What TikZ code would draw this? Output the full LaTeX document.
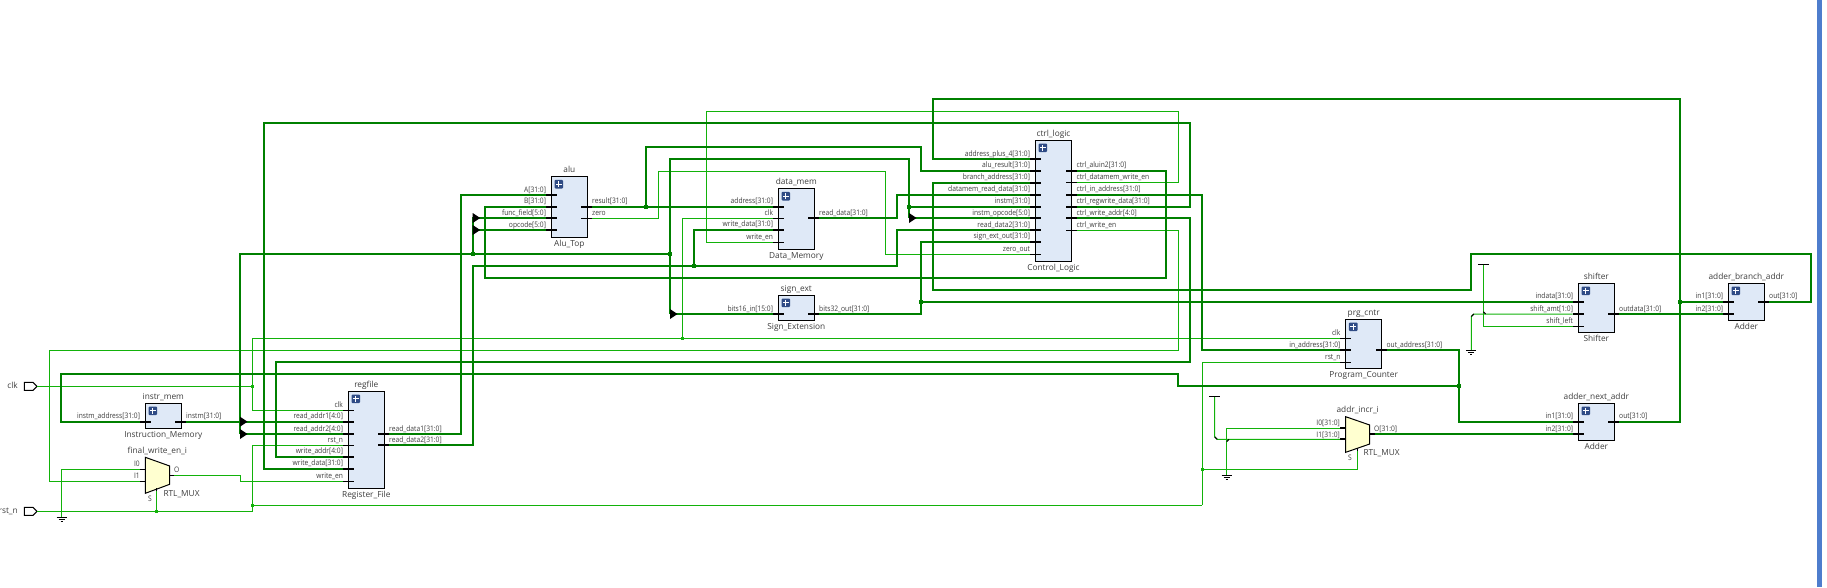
\documentclass[tikz,border=0pt]{standalone}
\usepackage{fontspec}
\setmainfont{Open Sans}
\newfontfamily\pinfont[FakeStretch=0.88]{Open Sans}
\usetikzlibrary{positioning}
\definecolor{busgreen}{RGB}{0,128,0}
\definecolor{netgreen}{RGB}{18,178,10}
\definecolor{blkfill}{RGB}{223,233,247}
\definecolor{muxfill}{RGB}{255,255,208}
\definecolor{icongray}{RGB}{47,75,133}
\definecolor{txtgray}{RGB}{60,60,60}
\definecolor{barblue}{RGB}{78,125,205}
\tikzstyle{blk}=[draw=black,line width=1pt,fill=blkfill,anchor=north west,inner sep=0pt,outer sep=0pt,minimum width=36pt]
\tikzstyle{muxblk}=[draw=black,line width=1pt,fill=muxfill]
\tikzstyle{portblk}=[draw=black,line width=1pt,fill=white]
\tikzstyle{plusic}=[fill=icongray,rounded corners=1pt,minimum size=8.6pt,inner sep=0pt,path picture={\draw[white,line width=1.2pt] ([xshift=-2.8pt]path picture bounding box.center) -- ([xshift=2.8pt]path picture bounding box.center); \draw[white,line width=1.2pt] ([yshift=-2.8pt]path picture bounding box.center) -- ([yshift=2.8pt]path picture bounding box.center);}]
\tikzstyle{bus}=[draw=busgreen,line width=1.8pt,line join=miter]
\tikzstyle{net}=[draw=netgreen,line width=1pt]
\tikzstyle{busstub}=[draw=black,line width=1.8pt]
\tikzstyle{netstub}=[draw=black,line width=1pt]
\tikzstyle{lblL}=[anchor=base east,inner sep=0pt,text=txtgray,font=\pinfont\fontsize{7.6}{9}\selectfont]
\tikzstyle{lblR}=[anchor=base west,inner sep=0pt,text=txtgray,font=\pinfont\fontsize{7.6}{9}\selectfont]
\tikzstyle{lblC}=[inner sep=0pt,text height=6.5pt,text depth=2pt,text=txtgray,font=\fontsize{8.3}{10}\selectfont]
\tikzstyle{junc}=[fill=busgreen,inner sep=0pt,minimum size=4pt]
\tikzstyle{juncn}=[fill=netgreen,inner sep=0pt,minimum size=3pt]
\newcommand{\pinL}[3]{\foreach \p/\yy/\tx in {#3}{
	\path (#2.west |- 0,\yy) ++(-5.6,0) coordinate (\p);
	\draw[#1] (\p) -- ++(11.3,0);
	\path (\p) ++(0.5,-3) node [lblL] (\p lbl) {\tx};}}
\newcommand{\pinR}[3]{\foreach \p/\yy/\tx in {#3}{
	\path (#2.east |- 0,\yy) ++(5,0) coordinate (\p);
	\draw[#1] (\p) -- ++(-11,0);
	\path (\p) ++(-0.3,-3) node [lblR] (\p lbl) {\tx};}}
\tikzset{gnd/.pic={\draw[black,line width=1pt] (-5,0) -- (5,0); \draw[black,line width=1pt] (-3,2) -- (3,2); \draw[black,line width=1pt] (-1,4) -- (1,4);},
	pwr/.pic={\draw[black,line width=1pt] (-5.3,0) -- (5.3,0);}}

\begin{document}
\begin{tikzpicture}[x=1pt,y=-1pt]
	\useasboundingbox (0,0) rectangle (1827,587);
	\fill[barblue] (1817,0) rectangle (1822,587);

	\node [blk, minimum height=25] (instr_mem) at (145.3,403.3) {};
	\node [blk, minimum height=97] (regfile) at (348.3,391.3) {};
	\node [blk, minimum height=60.6] (alu) at (551.3,176.7) {};
	\node [blk, minimum height=60.6] (data_mem) at (778.3,188.7) {};
	\node [blk, minimum height=25.4] (sign_ext) at (778.3,295.3) {};
	\node [blk, minimum height=121, minimum width=36.4] (ctrl_logic) at (1035.3,140.3) {};
	\node [blk, minimum height=49] (prg_cntr) at (1345.7,319.3) {};
	\node [blk, minimum height=49] (shifter) at (1578.3,283.3) {};
	\node [blk, minimum height=37] (adder_branch_addr) at (1728.3,283.3) {};
	\node [blk, minimum height=37] (adder_next_addr) at (1578.3,403.3) {};

	\foreach \b in {instr_mem,regfile,alu,data_mem,sign_ext,ctrl_logic,prg_cntr,shifter,adder_branch_addr,adder_next_addr}
		\node [plusic, below right=3pt and 3pt of \b.north west] (\b plus) {};

	\node [lblC, above=2pt of instr_mem.north] (instr_mem top) {instr\_mem};
	\node [lblC, below=2pt of instr_mem.south] (instr_mem bot) {Instruction\_Memory};
	\node [lblC, above=2pt of regfile.north] (regfile top) {regfile};
	\node [lblC, below=2pt of regfile.south] (regfile bot) {Register\_File};
	\node [lblC, above=2pt of alu.north] (alu top) {alu};
	\node [lblC, below=2pt of alu.south] (alu bot) {Alu\_Top};
	\node [lblC, above=2pt of data_mem.north] (data_mem top) {data\_mem};
	\node [lblC, below=2pt of data_mem.south] (data_mem bot) {Data\_Memory};
	\node [lblC, above=2pt of sign_ext.north] (sign_ext top) {sign\_ext};
	\node [lblC, below=2pt of sign_ext.south] (sign_ext bot) {Sign\_Extension};
	\node [lblC, above=2pt of ctrl_logic.north] (ctrl_logic top) {ctrl\_logic};
	\node [lblC, below=2pt of ctrl_logic.south] (ctrl_logic bot) {Control\_Logic};
	\node [lblC, above=2pt of prg_cntr.north] (prg_cntr top) {prg\_cntr};
	\node [lblC, below=2pt of prg_cntr.south] (prg_cntr bot) {Program\_Counter};
	\node [lblC, above=2pt of shifter.north] (shifter top) {shifter};
	\node [lblC, below=2pt of shifter.south] (shifter bot) {Shifter};
	\node [lblC, above=2pt of adder_branch_addr.north] (adder_branch_addr top) {adder\_branch\_addr};
	\node [lblC, below=2pt of adder_branch_addr.south] (adder_branch_addr bot) {Adder};
	\node [lblC, above=2pt of adder_next_addr.north] (adder_next_addr top) {adder\_next\_addr};
	\node [lblC, below=2pt of adder_next_addr.south] (adder_next_addr bot) {Adder};

	\pinL{busstub}{instr_mem}{im_addr/421.7/instm\_address[31:0]}
	\pinR{busstub}{instr_mem}{im_out/421.7/instm[31:0]}
	\pinL{netstub}{regfile}{rf_clk/410.3/clk,rf_rst/445.3/rst\_n,rf_we/481.3/write\_en}
	\pinL{busstub}{regfile}{rf_ra1/421.7/read\_addr1[4:0],rf_ra2/434/read\_addr2[4:0],rf_wa/456.7/write\_addr[4:0],rf_wd/468.7/write\_data[31:0]}
	\pinR{busstub}{regfile}{rf_rd1/434/read\_data1[31:0],rf_rd2/445/read\_data2[31:0]}
	\pinL{busstub}{alu}{alu_a/195/A[31:0],alu_b/206.7/B[31:0],alu_func/218/func\_field[5:0],alu_op/230/opcode[5:0]}
	\pinR{busstub}{alu}{alu_res/206.7/result[31:0]}
	\pinR{netstub}{alu}{alu_zero/218/zero}
	\pinL{busstub}{data_mem}{dm_addr/206.7/address[31:0],dm_wd/229.7/write\_data[31:0]}
	\pinL{netstub}{data_mem}{dm_clk/218/clk,dm_we/242.3/write\_en}
	\pinR{busstub}{data_mem}{dm_rd/218/read\_data[31:0]}
	\pinL{busstub}{sign_ext}{se_in/314/bits16\_in[15:0]}
	\pinR{busstub}{sign_ext}{se_out/314/bits32\_out[31:0]}
	\pinL{busstub}{ctrl_logic}{cl_plus4/159/address\_plus\_4[31:0],cl_alu/170.7/alu\_result[31:0],cl_branch/182.7/branch\_address[31:0],cl_dmrd/194.7/datamem\_read\_data[31:0],cl_instm/206.7/instm[31:0],cl_op/218/instm\_opcode[5:0],cl_rd2/230/read\_data2[31:0],cl_sign/241.7/sign\_ext\_out[31:0]}
	\pinL{netstub}{ctrl_logic}{cl_zero/254.3/zero\_out}
	\pinR{busstub}{ctrl_logic}{cl_aluin2/170.7/ctrl\_aluin2[31:0],cl_in/194.7/ctrl\_in\_address[31:0],cl_rw/206.7/ctrl\_regwrite\_data[31:0],cl_wa/218/ctrl\_write\_addr[4:0]}
	\pinR{netstub}{ctrl_logic}{cl_dmwe/182.7/ctrl\_datamem\_write\_en,cl_we/230.3/ctrl\_write\_en}
	\pinL{netstub}{prg_cntr}{pc_clk/338.3/clk,pc_rst/362.3/rst\_n}
	\pinL{busstub}{prg_cntr}{pc_in/350/in\_address[31:0]}
	\pinR{busstub}{prg_cntr}{pc_out/350/out\_address[31:0]}
	\pinL{busstub}{shifter}{sh_in/301.7/indata[31:0],sh_amt/314/shift\_amt[1:0]}
	\pinL{netstub}{shifter}{sh_left/326.3/shift\_left}
	\pinR{busstub}{shifter}{sh_out/314/outdata[31:0]}
	\pinL{busstub}{adder_branch_addr}{ab_in1/301.7/in1[31:0],ab_in2/314/in2[31:0]}
	\pinR{busstub}{adder_branch_addr}{ab_out/301.7/out[31:0]}
	\pinL{busstub}{adder_next_addr}{an_in1/421.7/in1[31:0],an_in2/434/in2[31:0]}
	\pinR{busstub}{adder_next_addr}{an_out/421.7/out[31:0]}

	\draw[muxblk] (145.3,457.3) -- (169.7,466) -- (169.7,484.3) -- (145.3,493.3) -- cycle;
	\coordinate (m1_i0) at (140,469.3);
	\coordinate (m1_i1) at (140,481.3);
	\coordinate (m1_o) at (174,475.3);
	\coordinate (m1_s) at (156.3,491);
	\draw[netstub] (m1_i0) -- ++(5.3,0);
	\draw[netstub] (m1_i1) -- ++(5.3,0);
	\draw[netstub] (m1_o) -- ++(-4.3,0);
	\draw[netstub] (m1_s) -- ++(0,-3.5);
	\node [lblC] (m1 top) at (157.3,451.3) {final\_write\_en\_i};
	\node [lblC, anchor=west] (m1 type) at (163.3,494) {RTL\_MUX};
	\node [lblL] (m1 i0) at (140,466) {I0};
	\node [lblL] (m1 i1) at (140,478) {I1};
	\node [lblR] (m1 o) at (174,472) {O};
	\node [lblL, anchor=center] (m1 s) at (150,498.7) {S};

	\draw[muxblk] (1345.7,416.7) -- (1369.7,425) -- (1369.7,444) -- (1345.7,452.3) -- cycle;
	\coordinate (m2_i0) at (1340,428);
	\coordinate (m2_i1) at (1340,439.3);
	\coordinate (m2_o) at (1374.5,434);
	\coordinate (m2_s) at (1357.7,451);
	\draw[busstub] (m2_i0) -- ++(5.7,0);
	\draw[busstub] (m2_i1) -- ++(5.7,0);
	\draw[busstub] (m2_o) -- ++(-4.8,0);
	\draw[netstub] (m2_s) -- ++(0,-3.5);
	\node [lblC] (m2 top) at (1357.7,410.3) {addr\_incr\_i};
	\node [lblC, anchor=west] (m2 type) at (1363.3,453) {RTL\_MUX};
	\node [lblL] (m2 i0) at (1340,425.5) {I0[31:0]};
	\node [lblL] (m2 i1) at (1340,437) {I1[31:0]};
	\node [lblR] (m2 o) at (1374,431.5) {O[31:0]};
	\node [lblL, anchor=center] (m2 s) at (1350,457.3) {S};

	\draw[portblk] (24.3,382.3) -- (33,382.3) -- (37,386.3) -- (33,390.3) -- (24.3,390.3) -- cycle;
	\draw[portblk] (24.3,507.3) -- (33,507.3) -- (37,511.3) -- (33,515.3) -- (24.3,515.3) -- cycle;
	\coordinate (clk_p) at (37,386.3);
	\coordinate (rst_p) at (37,511.3);
	\node [lblC, anchor=east] (clk lbl) at (18,385.8) {clk};
	\node [lblC, anchor=east] (rst lbl) at (18,510.8) {rst\_n};

	\coordinate (j_clk) at (252.3,386.3);
	\coordinate (j_clkup) at (252.3,338.3);
	\coordinate (j_dmclk) at (682.3,338.3);
	\coordinate (j_rstup) at (252.3,505.3);
	\coordinate (j_rstpc) at (1202.3,505.3);
	\coordinate (j_rsts) at (156.3,511.3);
	\coordinate (j_rstm2) at (1202.3,469.3);
	\coordinate (g1) at (61.7,517.7);
	\coordinate (g2) at (1226.7,475);
	\coordinate (g3) at (1471.3,350);
	\coordinate (p2) at (1214.7,396.7);
	\coordinate (p3) at (1483.3,264);

	\draw[net] (clk_p) -- (j_clk);
	\draw[net] (j_clkup) |- (rf_clk);
	\draw[net] (j_clkup) -- (pc_clk);
	\draw[net] (j_dmclk) |- (dm_clk);
	\draw[net] (rst_p) -| (252.3,445.3) -- (rf_rst);
	\draw[net] (j_rstup) -- (j_rstpc);
	\draw[net] (pc_rst) -| (j_rstpc);
	\draw[net] (j_rstm2) -| (m2_s);
	\draw[net] (j_rsts) -- (m1_s);
	\draw[net] (alu_zero) -| (658,171.3) -- (885.3,171.3) |- (cl_zero);
	\draw[net] (cl_dmwe) -| (1178.3,111.3) -- (706.7,111.3) |- (dm_we);
	\draw[net] (cl_we) -| (1178.3,350.5) -- (49.5,350.5) |- (m1_i1);
	\draw[net] (m1_o) -| (240.3,481.3) -- (rf_we);
	\draw[net] (m1_i0) -| (g1);
	\draw[net] (m2_i0) -| (g2);
	\draw[net] (m2_i1) -- (1217.2,439.3) -- (1214.7,436.8) -- (p2);
	\draw[net] (sh_left) -| (p3);
	\draw[net] (sh_amt) -- (1473.8,314) -- (1471.3,316.5) -- (g3);
	\draw[netstub] (1217.2,439.3) -- (1214.7,436.8);
	\draw[netstub] (1473.8,314) -- (1471.3,316.5);
	\draw[netstub] (1229,439.3) -- (1226.7,441.6);
	\draw[netstub] (1483.3,311.7) -- (1485.6,314);

	\pic at (g1) {gnd};
	\pic at (g2) {gnd};
	\pic at (g3) {gnd};
	\pic at (p2) {pwr};
	\pic at (p3) {pwr};

	\coordinate (j_pc) at (1458.7,385.7);
	\coordinate (j_alu) at (472.7,254);
	\coordinate (j_se) at (670,254);
	\coordinate (j_res) at (646,206.7);
	\coordinate (j_wd) at (694,266);
	\coordinate (j_in) at (909,206.7);
	\coordinate (j_out) at (921,301.7);
	\coordinate (j_an) at (1680,301.7);
	\coordinate (r_ra1) at (240,421.7);
	\coordinate (r_ra2) at (240,434);
	\coordinate (r_func) at (472.7,218);
	\coordinate (r_op) at (472.7,230);
	\coordinate (r_se) at (670,314);
	\coordinate (r_cl) at (909,218);

	\draw[bus] (pc_out) -| (1458.7,421.7) -- (an_in1);
	\draw[bus] (j_pc) -- (1178.3,385.7) |- (61,373.7) |- (im_addr);
	\draw[bus] (im_out) -- (rf_ra1);
	\draw[bus] (r_ra2) -- (rf_ra2);
	\draw[bus] (r_ra2) |- (j_se);
	\draw[bus] (r_se) -- (670,159.3) -| (r_cl);
	\draw[bus] (r_se) -- (se_in);
	\draw[bus] (r_cl) -- (cl_op);
	\draw[bus] (j_in) -- (cl_instm);
	\draw[bus] (j_alu) -- (r_func) -- (alu_func);
	\draw[bus] (r_op) -- (alu_op);
	\draw[bus] (rf_rd1) -| (460.7,195) -- (alu_a);
	\draw[bus] (rf_rd2) -| (472.7,266) -- (896.7,266) |- (cl_rd2);
	\draw[bus] (j_wd) |- (dm_wd);
	\draw[bus] (alu_b) -| (484.7,278) -- (1166,278) |- (cl_aluin2);
	\draw[bus] (alu_res) -- (dm_addr);
	\draw[bus] (j_res) |- (921,146.7) |- (cl_alu);
	\draw[bus] (dm_rd) -| (896.7,194.7) -- (cl_dmrd);
	\draw[bus] (se_out) -| (921,241.7) -- (cl_sign);
	\draw[bus] (j_out) -- (sh_in);
	\draw[bus] (cl_rw) -| (1190,123) -- (264,123) |- (rf_wd);
	\draw[bus] (cl_wa) -| (1190,362) -- (276,362) |- (rf_wa);
	\draw[bus] (cl_in) -| (1202,350) -- (pc_in);
	\draw[bus] (ab_out) -| (1811,254) -- (1470.7,254) |- (932.7,290) |- (cl_branch);
	\draw[bus] (an_out) -| (1680,99) -- (932.7,99) |- (cl_plus4);
	\draw[bus] (j_an) -- (ab_in1);
	\draw[bus] (sh_out) -- (ab_in2);
	\draw[bus] (m2_o) -- (an_in2);

	\foreach \j in {j_pc,j_alu,j_se,j_res,j_wd,j_in,j_out,j_an}
		\node [junc] (\j dot) at (\j) {};
	\foreach \j in {j_clk,j_dmclk,j_rstup,j_rsts,j_rstm2}
		\node [juncn] (\j dot) at (\j) {};
	\foreach \r in {r_ra1,r_ra2,r_func,r_op,r_se,r_cl}
		\fill[black] (\r) ++(0,-5) -- ++(7.5,5) -- ++(-7.5,5) -- cycle;
\end{tikzpicture}
\end{document}
